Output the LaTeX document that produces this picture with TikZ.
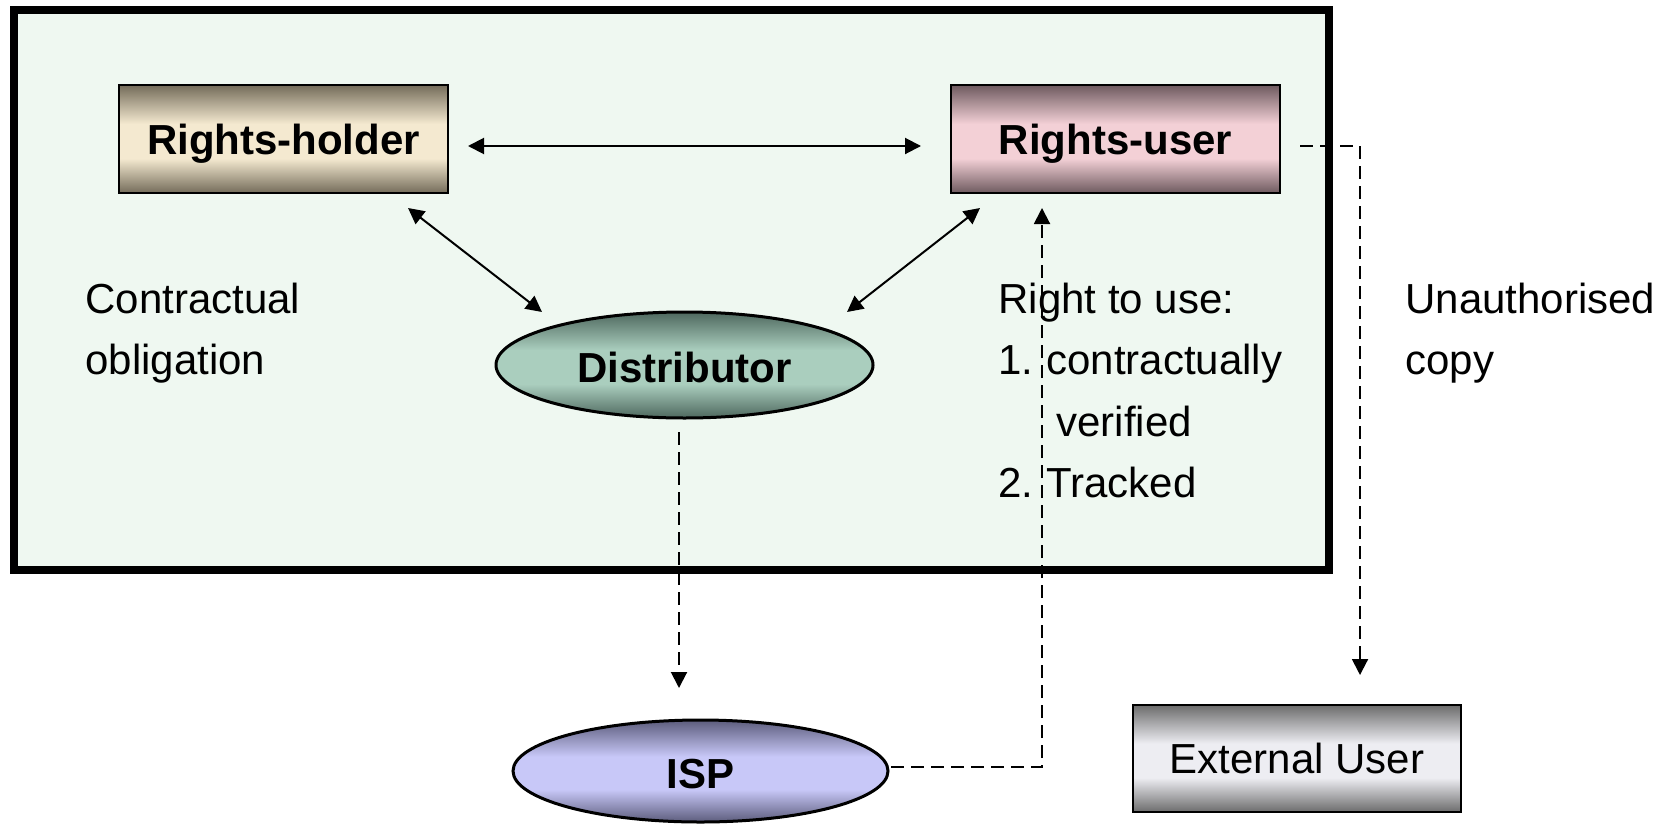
\documentclass[tikz,border=0pt]{standalone}
\usepackage{fontspec}
\setmainfont{Liberation Sans}
\usetikzlibrary{shapes.geometric,arrows.meta}

\definecolor{panel}{RGB}{239,248,241}
\definecolor{holderDark}{RGB}{116,108,90}
\definecolor{holderLight}{RGB}{244,233,208}
\definecolor{userDark}{RGB}{110,90,95}
\definecolor{userLight}{RGB}{243,208,214}
\definecolor{distDark}{RGB}{78,104,94}
\definecolor{distLight}{RGB}{170,206,190}
\definecolor{ispDark}{RGB}{92,92,124}
\definecolor{ispLight}{RGB}{200,200,248}
\definecolor{extDark}{RGB}{108,108,108}
\definecolor{extLight}{RGB}{237,237,242}
\colorlet{bandDark}{black}
\colorlet{bandLight}{white}

% dark edges, broad light band across the middle (25bp..75bp is fitted to the shape)
\pgfdeclareverticalshading[bandDark,bandLight]{band}{100bp}{%
  color(0bp)=(bandDark); color(25bp)=(bandDark);
  color(41bp)=(bandLight); color(57bp)=(bandLight);
  color(75bp)=(bandDark); color(100bp)=(bandDark)}

\tikzset{
  txt/.style={font=\fontsize{21}{25}\selectfont},
  party/.style={txt, font=\fontsize{21}{25}\selectfont\bfseries, draw=black, line width=1pt,
    rectangle, minimum width=164.5pt, minimum height=54pt, inner sep=0pt,
    text height=15pt, text depth=0pt},
  hub/.style={txt, font=\fontsize{21}{25}\selectfont\bfseries, draw=black, line width=1.5pt,
    ellipse, inner sep=0pt, text height=17pt, text depth=0pt},
  band/.style 2 args={/utils/exec={\colorlet{bandDark}{#1}\colorlet{bandLight}{#2}},
    shading=band},
  label/.style={txt, anchor=base west, inner sep=0pt},
  tip/.style={-{Triangle[length=8pt,width=8pt]}},
  both/.style={{Triangle[length=8pt,width=8pt]}-{Triangle[length=8pt,width=8pt]}},
  link/.style={line width=1pt, both},
  flow/.style={line width=1pt, tip, dash pattern=on 6.5pt off 3.5pt},
}

\begin{document}
\begin{tikzpicture}[x=0.5pt,y=-0.5pt]
\useasboundingbox (0,0) rectangle (1673,824);

% organisation boundary
\draw[line width=4pt, fill=panel] (14,10) rectangle (1329,570);

% parties
\node[party, band={holderDark}{holderLight}] (RH) at (283.5,139) {Rights-holder};
\node[party, band={userDark}{userLight}] (RU) at (1115.5,139) {Rights-user};
\node[hub, minimum width=188.5pt, minimum height=53pt, band={distDark}{distLight}]
  (D) at (684.5,365) {Distributor};
\node[hub, minimum width=187.5pt, minimum height=51pt, band={ispDark}{ispLight}]
  (ISP) at (700.5,771) {ISP};
\node[party, font=\fontsize{21}{25}\selectfont, minimum width=164pt, minimum height=53.5pt,
  band={extDark}{extLight}] (EU) at (1297,758.5) {External User};

% free ends of the connectors
\coordinate (rhE) at (468,146);
\coordinate (ruW) at (921,146);
\coordinate (rhS) at (408,208);
\coordinate (dNW) at (542,312);
\coordinate (ruS) at (980,208);
\coordinate (dNE) at (847,312);
\coordinate (dS) at (679,432);
\coordinate (ispN) at (679,688);
\coordinate (ispE) at (891,767);
\coordinate (ruB) at (1042,208);
\coordinate (ruE) at (1300,146);
\coordinate (euN) at (1360,675);

% contractual links
\draw[link] (rhE) -- (ruW);
\draw[link] (rhS) -- (dNW);
\draw[link] (ruS) -- (dNE);

% distribution and copy flows
\draw[flow] (dS) -- (ispN);
\draw[flow] (ispE) -| (ruB);
\draw[flow] (ruE) -| (euN);

% annotations
\node[label] (c1) at (85,313) {Contractual};
\node[label] (c2) at (85,374) {obligation};
\node[label] (r0) at (998,313) {Right to use:};
\node[label] (r1) at (998,374) {1.};
\node[label] (r1t) at (1046,374) {contractually};
\node[label] (r1u) at (1056,436) {verified};
\node[label] (r2) at (998,497) {2.};
\node[label] (r2t) at (1046,497) {Tracked};
\node[label] (u1) at (1405,313) {Unauthorised};
\node[label] (u2) at (1405,374) {copy};
\end{tikzpicture}
\end{document}
